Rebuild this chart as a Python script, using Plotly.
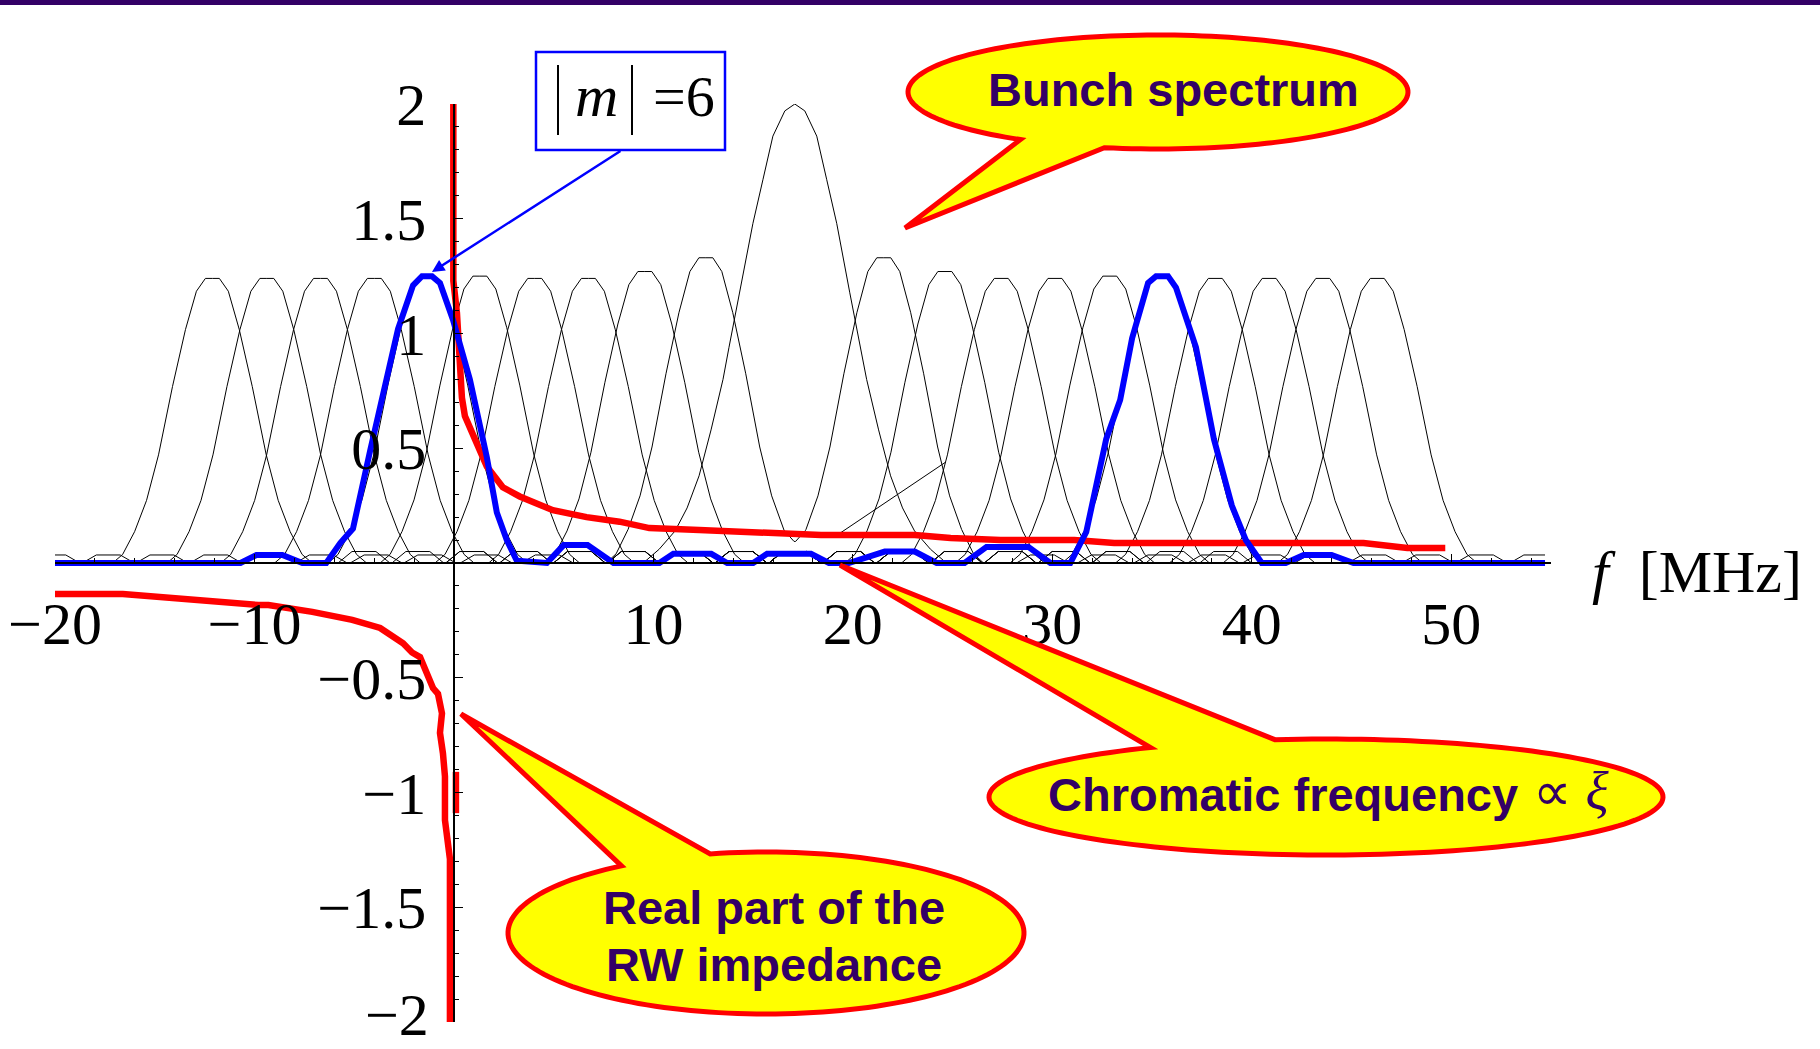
import math
import numpy as np
import plotly.graph_objects as go

# ---------------------------------------------------------------- canvas
W, H = 1820, 1049
ML, MR, MT, MB = 55, 269, 104, 27
X_RANGE = [-20, 55]
Y_RANGE = [-2, 2]

# ---------------------------------------------------------------- head-tail bunch spectra (|m| = 0..10)
SPECTRUM_CENTER = 17.09          # chromatic frequency [MHz]
MODE_ORDER = [0, 1, 2, 3, 4, 5, 6, 7, 8, 9, 10]
MODE_SHIFT = [0.0, 4.46, 7.52, 10.35, 13.04, 15.79, 18.40, 21.08, 23.78, 26.47, 29.20]
MODE_PEAK = [2.00, 1.33, 1.27, 1.24, 1.24, 1.25, 1.25, 1.24, 1.24, 1.24, 1.24]

# main-lobe profile (offset from lobe peak [MHz], fraction of peak)
LOBE_OFFSET = [0.0, 0.35, 0.8, 1.35, 2.0, 2.7, 3.3, 3.9, 4.5, 5.0]
LOBE_LEVEL = [1.0, 1.0, 0.955, 0.82, 0.62, 0.38, 0.22, 0.11, 0.03, 0.0]
# |m| = 0 central lobe
CORE_OFFSET = [0.0, 0.5, 1.1, 1.6, 2.1, 2.75, 3.3, 3.6, 4.2, 4.8, 5.4, 6.0, 6.8, 7.6]
CORE_LEVEL = [1.0, 0.985, 0.93, 0.835, 0.74, 0.59, 0.47, 0.40, 0.29, 0.19, 0.12, 0.07, 0.03, 0.0]
# small side lobes
SIDELOBE_SPACING = 5.4
SIDELOBE_INNER = 0.05
SIDELOBE_OUTER = 0.035
SIDELOBE_OUTER_GAP = 7.95
SIDELOBE_OFFSET = [-1.3, -0.6, 0.6, 1.3]
SIDELOBE_LEVEL = [0.0, 1.0, 1.0, 0.0]
# stray straight segment of the sampled spectra
STRAY_F = [19.15, 24.66]
STRAY_H = [0.118, 0.44]

# ---------------------------------------------------------------- highlighted |m| = 6 spectrum
M6_F = [-20, -10.7, -9.9, -8.6, -7.6, -6.4, -5.7, -5.06, -4.2, -2.8, -2.05, -1.6, -1.1,
        -0.7, -0.05, 0.8, 1.65, 2.15, 2.65, 3.15, 4.66, 5.5, 6.7, 8.0, 10.3, 11.0, 12.9,
        13.7, 15.0, 15.7, 17.9, 18.8, 19.8, 21.6, 23.1, 24.2, 25.6, 26.7, 28.8, 29.9,
        30.9, 31.7, 32.7, 33.4, 34.0, 34.8, 35.2, 35.8, 36.2, 37.2, 38.1, 39.0, 39.7,
        40.5, 41.7, 42.6, 44.0, 45.1, 54.7]
M6_H = [0, 0, 0.035, 0.035, 0, 0, 0.087, 0.15, 0.49, 1.02, 1.21, 1.25, 1.25,
        1.22, 1.06, 0.80, 0.46, 0.22, 0.10, 0.01, 0, 0.078, 0.078, 0, 0, 0.04, 0.04,
        0, 0, 0.04, 0.04, 0, 0, 0.05, 0.05, 0, 0, 0.07, 0.07, 0,
        0, 0.135, 0.54, 0.71, 0.98, 1.22, 1.25, 1.25, 1.20, 0.94, 0.54, 0.25, 0.10,
        0, 0, 0.035, 0.035, 0, 0]

# ---------------------------------------------------------------- real part of the resistive-wall impedance
RW_NEG_F = [-20, -16.6, -9.8, -9.3, -7.1, -5.1, -3.7, -2.55, -2.1, -1.7, -1.05, -0.8,
            -0.6, -0.7, -0.55, -0.45, -0.45, -0.2, -0.2]
RW_NEG_Z = [-0.135, -0.135, -0.183, -0.183, -0.213, -0.248, -0.283, -0.35, -0.39, -0.41,
            -0.545, -0.57, -0.655, -0.74, -0.83, -0.93, -1.12, -1.29, -2.0]
RW_MID_F = [0.1, 0.1]
RW_MID_Z = [-0.91, -1.09]
RW_POS_F = [-0.03, -0.03, 0.15, 0.25, 0.3, 0.4, 0.55, 1.15, 1.65, 2.45, 3.3, 4.96, 6.65,
            8.3, 9.8, 12.3, 16.6, 18.4, 23.1, 24.9, 27.4, 31.1, 33.1, 45.6, 47.8, 49.7]
RW_POS_Z = [2.0, 1.23, 1.09, 0.92, 0.84, 0.72, 0.64, 0.51, 0.42, 0.33, 0.29, 0.23, 0.20,
            0.18, 0.152, 0.144, 0.13, 0.122, 0.122, 0.109, 0.10, 0.10, 0.087, 0.087, 0.065, 0.065]

X_TICKS = [-20, -10, 10, 20, 30, 40, 50]
Y_TICKS = [-2, -1.5, -1, -0.5, 0.5, 1, 1.5, 2]
Y_TICK_TEXT = ["", "\u22121.5", "\u22121", "\u22120.5", "0.5", "1", "1.5", "2"]
Y_BOTTOM_LABEL = "\u22122"

TEXT_COLOR = "#330066"
BAR_COLOR = "#330066"


def mirrored(offsets, levels):
    o = [-v for v in offsets[:0:-1]] + list(offsets)
    lv = list(levels[:0:-1]) + list(levels)
    return np.array(o), np.array(lv)


def mode_features(m, shift, peak):
    feats = []
    if m == 0:
        o, lv = mirrored(CORE_OFFSET, CORE_LEVEL)
        feats.append((SPECTRUM_CENTER + o, peak * lv))
        return feats
    o, lv = mirrored(LOBE_OFFSET, LOBE_LEVEL)
    so = np.array(SIDELOBE_OFFSET)
    sl = np.array(SIDELOBE_LEVEL)
    for side in (-1, 1):
        c = SPECTRUM_CENTER + side * shift
        feats.append((c + o, peak * lv))
        feats.append((SPECTRUM_CENTER + side * (shift + SIDELOBE_OUTER_GAP) + so,
                      SIDELOBE_OUTER * sl))
    start = 0.0 if m % 2 == 0 else SIDELOBE_SPACING / 2
    k = start
    while k <= shift - 5.0:
        for side in ((1,) if k == 0 else (-1, 1)):
            feats.append((SPECTRUM_CENTER + side * k + so, SIDELOBE_INNER * sl))
        k += SIDELOBE_SPACING
    return feats


bx, by = [], []
for m, s, p in zip(MODE_ORDER, MODE_SHIFT, MODE_PEAK):
    feats = mode_features(m, s, p)
    grid = np.unique(np.concatenate([f[0] for f in feats] + [np.array([-20.0, 54.7])]))
    grid = grid[(grid >= -20) & (grid <= 54.7)]
    val = np.zeros_like(grid)
    for fx, fy in feats:
        val += np.interp(grid, fx, fy, left=0.0, right=0.0)
    bx += list(grid) + [None]
    by += list(val) + [None]
bx += STRAY_F
by += STRAY_H

fig = go.Figure()
fig.add_trace(go.Scatter(x=bx, y=by, mode="lines", line=dict(color="black", width=1),
                         hoverinfo="skip", showlegend=False))
fig.add_trace(go.Scatter(
    x=RW_NEG_F + [None] + RW_MID_F + [None] + RW_POS_F,
    y=RW_NEG_Z + [None] + RW_MID_Z + [None] + RW_POS_Z,
    mode="lines", line=dict(color="#ff0000", width=6.5), hoverinfo="skip", showlegend=False))
fig.add_trace(go.Scatter(x=M6_F, y=M6_H, mode="lines", line=dict(color="#0000ff", width=6),
                         hoverinfo="skip", showlegend=False))

PW, PH = W - ML - MR, H - MT - MB


def paper(X, Y):
    return (X - ML) / PW, (H - MB - Y) / PH


def bubble_path(cx, cy, rx, ry, base_a, base_b, tip, n=160):
    ta = math.atan2((base_a[1] - cy) / ry, (base_a[0] - cx) / rx)
    tb = math.atan2((base_b[1] - cy) / ry, (base_b[0] - cx) / rx)
    sweep = (tb - ta) % (2 * math.pi)
    if sweep < math.pi:
        sweep -= 2 * math.pi
    pts = [(cx + rx * math.cos(ta + sweep * k / n), cy + ry * math.sin(ta + sweep * k / n))
           for k in range(n + 1)]
    pts.append(tip)
    segs = ["{:.5f},{:.5f}".format(*paper(X, Y)) for X, Y in pts]
    return "M " + " L ".join(segs) + " Z"


shapes = []
# purple header bar
x0, _ = paper(0, 0)
x1, _ = paper(W, 0)
_, y0 = paper(0, 0)
_, y1 = paper(0, 5)
shapes.append(dict(type="rect", xref="paper", yref="paper", x0=x0, x1=x1, y0=y1, y1=y0,
                   fillcolor=BAR_COLOR, line=dict(width=0)))

BUBBLES = [
    dict(c=(1158, 92), r=(250, 57), a=(1025, 138), b=(1105, 147), tip=(905, 228)),
    dict(c=(1326, 797), r=(337, 58), a=(1163, 751), b=(1277, 742), tip=(840, 565)),
    dict(c=(766, 933), r=(258, 81), a=(626, 868), b=(711, 855), tip=(461, 714)),
]
for bb in BUBBLES:
    shapes.append(dict(type="path", xref="paper", yref="paper",
                       path=bubble_path(bb["c"][0], bb["c"][1], bb["r"][0], bb["r"][1],
                                        bb["a"], bb["b"], bb["tip"]),
                       fillcolor="#ffff00", line=dict(color="#ff0000", width=5)))

# |m| = 6 label box
bx0, by0 = paper(536, 52)
bx1, by1 = paper(725, 150)
shapes.append(dict(type="rect", xref="paper", yref="paper", x0=bx0, x1=bx1, y0=by1, y1=by0,
                   fillcolor="white", line=dict(color="#0000ff", width=2.5)))
for X in (558, 632):
    qx, qy0 = paper(X, 65)
    _, qy1 = paper(X, 135)
    shapes.append(dict(type="line", xref="paper", yref="paper", x0=qx, x1=qx, y0=qy0, y1=qy1,
                       line=dict(color="black", width=2)))

annotations = []


def text_at(X, Y, txt, size, family, color, xanchor="center", yanchor="middle"):
    px_, py_ = paper(X, Y)
    annotations.append(dict(x=px_, y=py_, xref="paper", yref="paper", text=txt,
                            showarrow=False, xanchor=xanchor, yanchor=yanchor, borderpad=0,
                            font=dict(size=size, family=family, color=color)))


text_at(596, 96, "<i>m</i>", 60, "Liberation Serif", "black")
text_at(684, 96, "=6", 58, "Liberation Serif", "black")
text_at(1173, 90, "<b>Bunch spectrum</b>", 47, "Liberation Sans", TEXT_COLOR)
text_at(1283, 794, "<b>Chromatic frequency</b>", 47, "Liberation Sans", TEXT_COLOR)
text_at(1571, 792, "\u221d <i>\u03be</i>", 54, "Liberation Serif", TEXT_COLOR)
text_at(774, 907, "<b>Real part of the</b>", 47, "Liberation Sans", TEXT_COLOR)
text_at(774, 964, "<b>RW impedance</b>", 47, "Liberation Sans", TEXT_COLOR)
text_at(1697, 572, "<i>f</i>  [MHz]", 60, "Liberation Serif", "black")
# bottom y tick label, kept inside the page
text_at(430, 1049, Y_BOTTOM_LABEL, 60, "Liberation Serif", "black",
        xanchor="right", yanchor="bottom")

# pointer from the label box to the |m| = 6 lobe
annotations.append(dict(x=(432 - 454) / 19.95, y=(563 - 272) / 229.5, xref="x", yref="y",
                        text="", showarrow=True, ax=190, ay=-122, arrowhead=2, arrowsize=1,
                        arrowwidth=2.5, arrowcolor="#0000ff", standoff=0))

tick_font = dict(family="Liberation Serif", size=60, color="black")
fig.update_layout(
    width=W, height=H, margin=dict(l=ML, r=MR, t=MT, b=MB, pad=0, autoexpand=False),
    paper_bgcolor="white", plot_bgcolor="white", showlegend=False,
    shapes=shapes, annotations=annotations,
    xaxis=dict(range=X_RANGE, anchor="free", position=0.5, showgrid=False, zeroline=False,
               showline=True, linecolor="black", linewidth=1.5, automargin=False,
               tickmode="array", tickvals=X_TICKS, ticks="inside", ticklen=8,
               tickcolor="black", tickwidth=1, tickfont=tick_font, ticklabelstandoff=8,
               ticklabeloverflow="allow",
               minor=dict(tickmode="linear", tick0=0, dtick=2, ticks="inside", ticklen=4,
                          tickcolor="black", tickwidth=1)),
    yaxis=dict(range=Y_RANGE, anchor="free", position=20 / 75, showgrid=False, zeroline=False,
               showline=True, linecolor="black", linewidth=1.5, automargin=False,
               tickmode="array", tickvals=Y_TICKS, ticktext=Y_TICK_TEXT, ticks="inside",
               ticklen=8, tickcolor="black", tickwidth=1, tickfont=tick_font,
               ticklabelstandoff=15, ticklabeloverflow="allow",
               minor=dict(tickmode="linear", tick0=0, dtick=0.1, ticks="inside", ticklen=4,
                          tickcolor="black", tickwidth=1)),
)

fig.write_html("out.html")
